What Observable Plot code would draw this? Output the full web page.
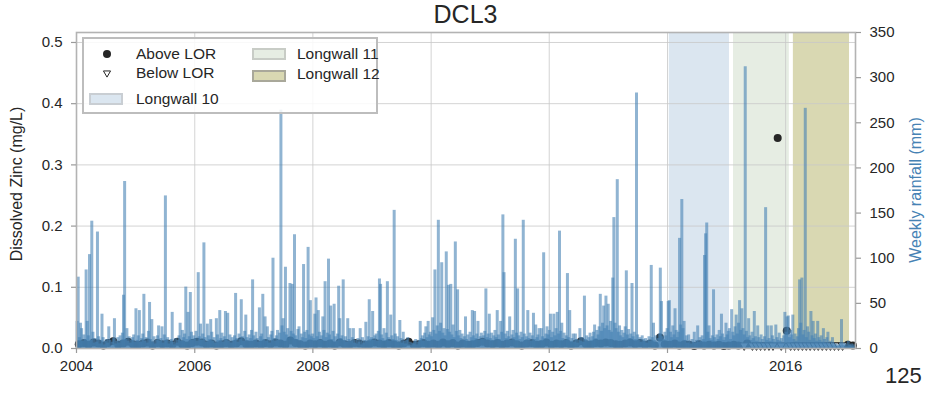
<!DOCTYPE html>
<html>
<head>
<meta charset="utf-8">
<script src="https://cdn.jsdelivr.net/npm/d3@7"></script>
<script src="https://cdn.jsdelivr.net/npm/@observablehq/plot@0.6"></script>
<style>
  body { margin: 0; background: #fff; font-family: "Liberation Sans", Arial, sans-serif; color: #262626; }
  #wrap { position: relative; width: 943px; height: 401px; overflow: hidden; }
  #title { position: absolute; left: 76px; width: 779px; top: 0px; height: 30px; line-height: 28px; text-align: center; font-size: 25px; }
  #chart { position: absolute; left: 0; top: 30px; }
  .ylab { position: absolute; white-space: nowrap; font-size: 16px; transform: translate(-50%, -50%) rotate(-90deg); }
  #page { position: absolute; left: 885px; top: 365px; font-size: 22px; line-height: 1; }
  #legend { position: absolute; left: 82px; top: 37px; width: 292px; height: 73px; border: 2px solid #bdbdbd; background: rgba(255,255,255,0.85); font-size: 15.5px; }
  .li { position: absolute; white-space: nowrap; line-height: 1; transform: translateY(-50%); }
  .patch { position: absolute; box-sizing: border-box; border: 2px solid #c6c6c6; }
</style>
</head>
<body>
<div id="wrap">
  <div id="title">DCL3</div>
  <div id="chart"></div>
  <div class="ylab" style="left:17px; top:184px;">Dissolved Zinc (mg/L)</div>
  <div class="ylab" style="left:916px; top:190px; color:#4682b4;">Weekly rainfall (mm)</div>
  <div id="page">125</div>
  <div id="legend"></div>
</div>
<script>
// ---------------- data ----------------
// weekly rainfall (mm), one array per year, 52 weeks from 1 Jan 2004 onwards
const rain2004 = [30,79,12,28,22,8,15,10,87,30,14,104,9,141,18,6,11,7,129,13,5,9,38,12,4,8,10,6,24,9,3,7,11,33,5,8,12,6,14,9,17,59,185,10,22,8,13,6,9,12,15,7];
const rain2005 = [44,9,14,42,7,11,16,60,8,12,6,19,51,10,32,7,13,5,9,14,25,8,11,24,6,15,169,9,12,5,8,10,40,7,4,11,6,9,14,28,8,20,12,16,68,10,40,13,62,18,9,14];
const rain2006 = [11,19,8,84,13,27,9,16,117,12,7,27,14,10,32,18,8,12,6,33,15,9,42,11,17,7,13,41,10,39,8,15,6,12,9,14,61,11,7,16,10,54,13,8,19,37,12,9,15,11,20,76];
const rain2007 = [14,9,18,11,7,45,13,16,60,10,35,8,24,12,6,15,19,100,11,8,14,20,9,17,264,25,33,18,90,15,22,12,72,19,71,16,126,14,10,21,24,9,16,12,93,18,11,20,112,15,53,13];
const rain2008 = [16,11,38,56,13,42,18,9,14,35,20,74,12,17,99,15,47,10,19,49,13,8,16,69,33,11,14,76,9,13,7,33,10,22,8,12,22,6,9,5,11,7,22,4,12,6,9,29,8,13,54,10];
const rain2009 = [12,41,9,14,16,8,19,77,71,15,11,22,9,17,74,12,8,37,14,10,153,16,9,13,7,31,11,6,18,8,5,9,12,4,7,3,6,5,8,10,4,7,9,30,11,14,8,17,24,12,30,15];
const rain2010 = [18,13,34,20,87,16,25,142,19,28,95,17,22,14,107,21,70,18,71,15,26,12,118,19,65,14,20,11,16,9,13,35,10,15,8,18,12,42,14,41,11,16,30,9,13,17,10,14,19,66,12,16];
const rain2011 = [38,11,17,9,14,20,12,42,15,10,30,18,148,84,16,11,19,13,35,9,15,20,12,121,17,66,14,10,18,12,142,16,9,13,42,11,17,8,14,39,10,26,12,15,22,9,22,13,106,11,16,24];
const rain2012 = [15,20,38,12,18,38,14,22,40,16,130,19,28,11,17,9,14,83,12,42,8,11,16,7,16,10,6,9,22,8,12,7,58,10,14,8,12,17,9,13,18,26,11,20,15,24,60,19,28,47,22,58];
const rain2013 = [25,49,20,30,18,78,145,28,22,187,18,25,14,20,12,17,24,86,15,21,11,16,72,13,18,10,283,15,9,12,7,14,10,8,11,6,9,13,8,92,12,28,9,14,7,11,16,89,52,13,10,18];
const rain2014 = [14,22,52,53,18,12,25,15,44,20,12,18,122,26,165,22,30,9,14,6,15,8,5,10,7,18,6,9,25,7,12,8,14,10,103,127,139,18,25,11,9,14,65,12,8,15,10,20,13,38,16,9];
const rain2015 = [12,28,15,19,22,10,43,18,14,24,37,16,28,53,20,44,22,15,312,19,12,33,14,9,18,11,41,13,8,25,12,7,15,10,6,13,156,9,25,11,8,25,14,10,7,26,12,9,17,8,11,6];
const rain2016 = [14,40,18,35,36,12,20,15,37,10,16,8,13,22,76,28,78,15,20,266,12,24,18,9,41,14,30,11,16,8,30,12,9,14,7,22,10,6,12,18,5,8,4,12,6,3,5,2,4,3,6,32];
const rain2017 = [4,6,3,5,2,8,4,3,5,2,4];
const rainYears = [2004,2005,2006,2007,2008,2009,2010,2011,2012,2013,2014,2015,2016,2017];
const rainByYear = [rain2004,rain2005,rain2006,rain2007,rain2008,rain2009,rain2010,rain2011,rain2012,rain2013,rain2014,rain2015,rain2016,rain2017];

// dissolved zinc above LOR, monthly samples Jan 2004 .. Dec 2014 (mg/L)
const zincMonthly = [
  0.007,0.009,0.006,0.010,0.008,0.005,0.009,0.012,0.006,0.008,0.011,0.007,
  0.006,0.008,0.010,0.005,0.009,0.007,0.008,0.006,0.011,0.007,0.005,0.009,
  0.011,0.010,0.006,0.008,0.005,0.007,0.009,0.006,0.008,0.012,0.007,0.006,
  0.008,0.006,0.009,0.007,0.010,0.008,0.006,0.013,0.009,0.007,0.005,0.008,
  0.007,0.009,0.006,0.008,0.005,0.010,0.007,0.006,0.009,0.008,0.006,0.007,
  0.010,0.008,0.006,0.009,0.007,0.005,0.008,0.011,0.006,0.007,0.009,0.006,
  0.008,0.006,0.010,0.007,0.009,0.005,0.008,0.006,0.007,0.009,0.011,0.008,
  0.007,0.009,0.006,0.008,0.010,0.007,0.005,0.008,0.009,0.006,0.007,0.010,
  0.006,0.008,0.007,0.009,0.005,0.008,0.012,0.007,0.006,0.009,0.008,0.010,
  0.009,0.007,0.006,0.008,0.010,0.007,0.009,0.006,0.008,0.005,0.018,0.007,
  0.006,0.008,0.005,0.007,0.006,0.004,0.007,0.005,0.006,0.005,0.006,0.004
];
// later samples above LOR
const aboveDates = ["2015-01-15","2015-02-15","2015-03-15","2015-05-08","2015-11-13","2016-01-08","2017-01-20","2017-02-20"];
const aboveValues = [0.005,0.006,0.005,0.008,0.344,0.029,0.006,0.005];
// samples below LOR (plotted at LOR)
const belowDates = ["2015-04-20","2015-06-10","2015-07-05","2015-07-30","2015-08-25","2015-09-20","2015-10-15","2015-12-05","2016-02-01","2016-02-25","2016-03-20","2016-04-14","2016-05-08","2016-06-01","2016-06-27","2016-07-21","2016-08-15","2016-09-09","2016-10-04","2016-10-29","2016-11-23","2016-12-18"];
const belowValue = 0.005;

// longwall mining periods
const lwNames = ["Longwall 10","Longwall 11","Longwall 12"];
const lwStart = ["2014-01-12","2015-02-13","2016-02-18"];
const lwEnd = ["2015-01-19","2016-01-24","2017-01-30"];
const lwColors = ["#dbe6f0","#e6ede3","#d9d8b2"];
const lwEdge = ["#c9ced3","#c8ccc6","#a9a89a"];

// axes
const xDomain = ["2004-01-01","2017-03-08"];
const xTickYears = [2004,2006,2008,2010,2012,2014,2016];
const zincTicks = [0,0.1,0.2,0.3,0.4,0.5];
const zincMax = 0.5163;
const rainTicks = [0,50,100,150,200,250,300,350];
const rainMax = 350;

// ---------------- build tables ----------------
const DAY = 864e5;
const t0 = Date.UTC(2004,0,1);
const k = zincMax / rainMax; // mm -> zinc axis units
const weeks = [];
rainYears.forEach((yr, j) => rainByYear[j].forEach((mm, i) => {
  weeks.push({date: new Date(t0 + (((yr - 2004) * 52 + i) * 7 + 3.5) * DAY), mm});
}));
const above = zincMonthly.map((v, i) => ({date: new Date(Date.UTC(2004 + Math.floor(i / 12), i % 12, 15)), v}))
  .concat(aboveDates.map((d, i) => ({date: new Date(d), v: aboveValues[i]})));
const below = belowDates.map(d => ({date: new Date(d), v: belowValue}));
const longwalls = lwNames.map((n, i) => ({name: n, start: new Date(lwStart[i]), end: new Date(lwEnd[i]), color: lwColors[i]}));
const xTicks = xTickYears.map(y => new Date(Date.UTC(y, 0, 1)));

const axisStyle = {tickSize: 5, stroke: "#9a9a9a", strokeWidth: 1.2, fill: "#262626", label: null};

const plot = Plot.plot({
  width: 943, height: 371,
  marginTop: 2, marginBottom: 53, marginLeft: 76, marginRight: 88,
  style: {fontFamily: "'Liberation Sans', Arial, sans-serif", fontSize: "15px", color: "#262626", background: "transparent", overflow: "visible"},
  x: {type: "utc", domain: xDomain.map(d => new Date(d))},
  y: {domain: [0, zincMax]},
  marks: [
    Plot.rect(longwalls, {x1: "start", x2: "end", fill: "color"}),
    Plot.gridX(xTicks, {stroke: "#c8c8c8", strokeOpacity: 0.8, strokeWidth: 1}),
    Plot.gridY(zincTicks, {stroke: "#c8c8c8", strokeOpacity: 0.8, strokeWidth: 1}),
    Plot.dot(above, {x: "date", y: "v", r: 4, fill: "#262626", stroke: "none"}),
    Plot.dot(below, {x: "date", y: "v", symbol: "triangle", rotate: 180, r: 3.2, fill: "white", stroke: "#262626", strokeWidth: 1}),
    Plot.ruleX(weeks, {x: "date", y1: 0, y2: d => d.mm * k, stroke: "#4682b4", strokeOpacity: 0.6, strokeWidth: 3}),
    Plot.frame({stroke: "#b3b3b3", strokeWidth: 1.6}),
    Plot.axisX(xTicks, {...axisStyle, tickFormat: d3.utcFormat("%Y"), tickPadding: 7}),
    Plot.axisY(zincTicks, {...axisStyle, anchor: "left", tickFormat: d3.format(".1f"), tickPadding: 9}),
    Plot.axisY(rainTicks.map(v => v * k), {...axisStyle, anchor: "right", tickFormat: v => String(Math.round(v / k)), tickPadding: 9})
  ]
});
document.getElementById("chart").appendChild(plot);

// ---------------- legend ----------------
const lg = document.getElementById("legend");
const ox = 84, oy = 39; // legend inner origin in page coordinates
function add(html) { lg.insertAdjacentHTML("beforeend", html); }
add(`<svg style="position:absolute;left:${107-ox-5}px;top:${54-oy-5}px" width="10" height="10"><circle cx="5" cy="5" r="4" fill="#262626"/></svg>`);
add(`<div class="li" style="left:${136-ox}px;top:${54-oy}px">Above LOR</div>`);
add(`<svg style="position:absolute;left:${107-ox-5}px;top:${73-oy-5}px" width="10" height="10"><path d="${d3.symbol(d3.symbolTriangle, 22)()}" transform="translate(5,5) rotate(180)" fill="white" stroke="#262626" stroke-width="1"/></svg>`);
add(`<div class="li" style="left:${136-ox}px;top:${73-oy}px">Below LOR</div>`);
const patchPos = [[89, 93, 136, 99], [252, 48, 297, 54], [252, 70, 297, 74]];
longwalls.forEach((lw, i) => {
  const [px, py, tx, ty] = patchPos[i];
  add(`<div class="patch" style="left:${px-ox}px;top:${py-oy}px;width:34px;height:12px;background:${lw.color};border-color:${lwEdge[i]}"></div>`);
  add(`<div class="li" style="left:${tx-ox}px;top:${ty-oy}px">${lw.name}</div>`);
});
</script>
</body>
</html>
